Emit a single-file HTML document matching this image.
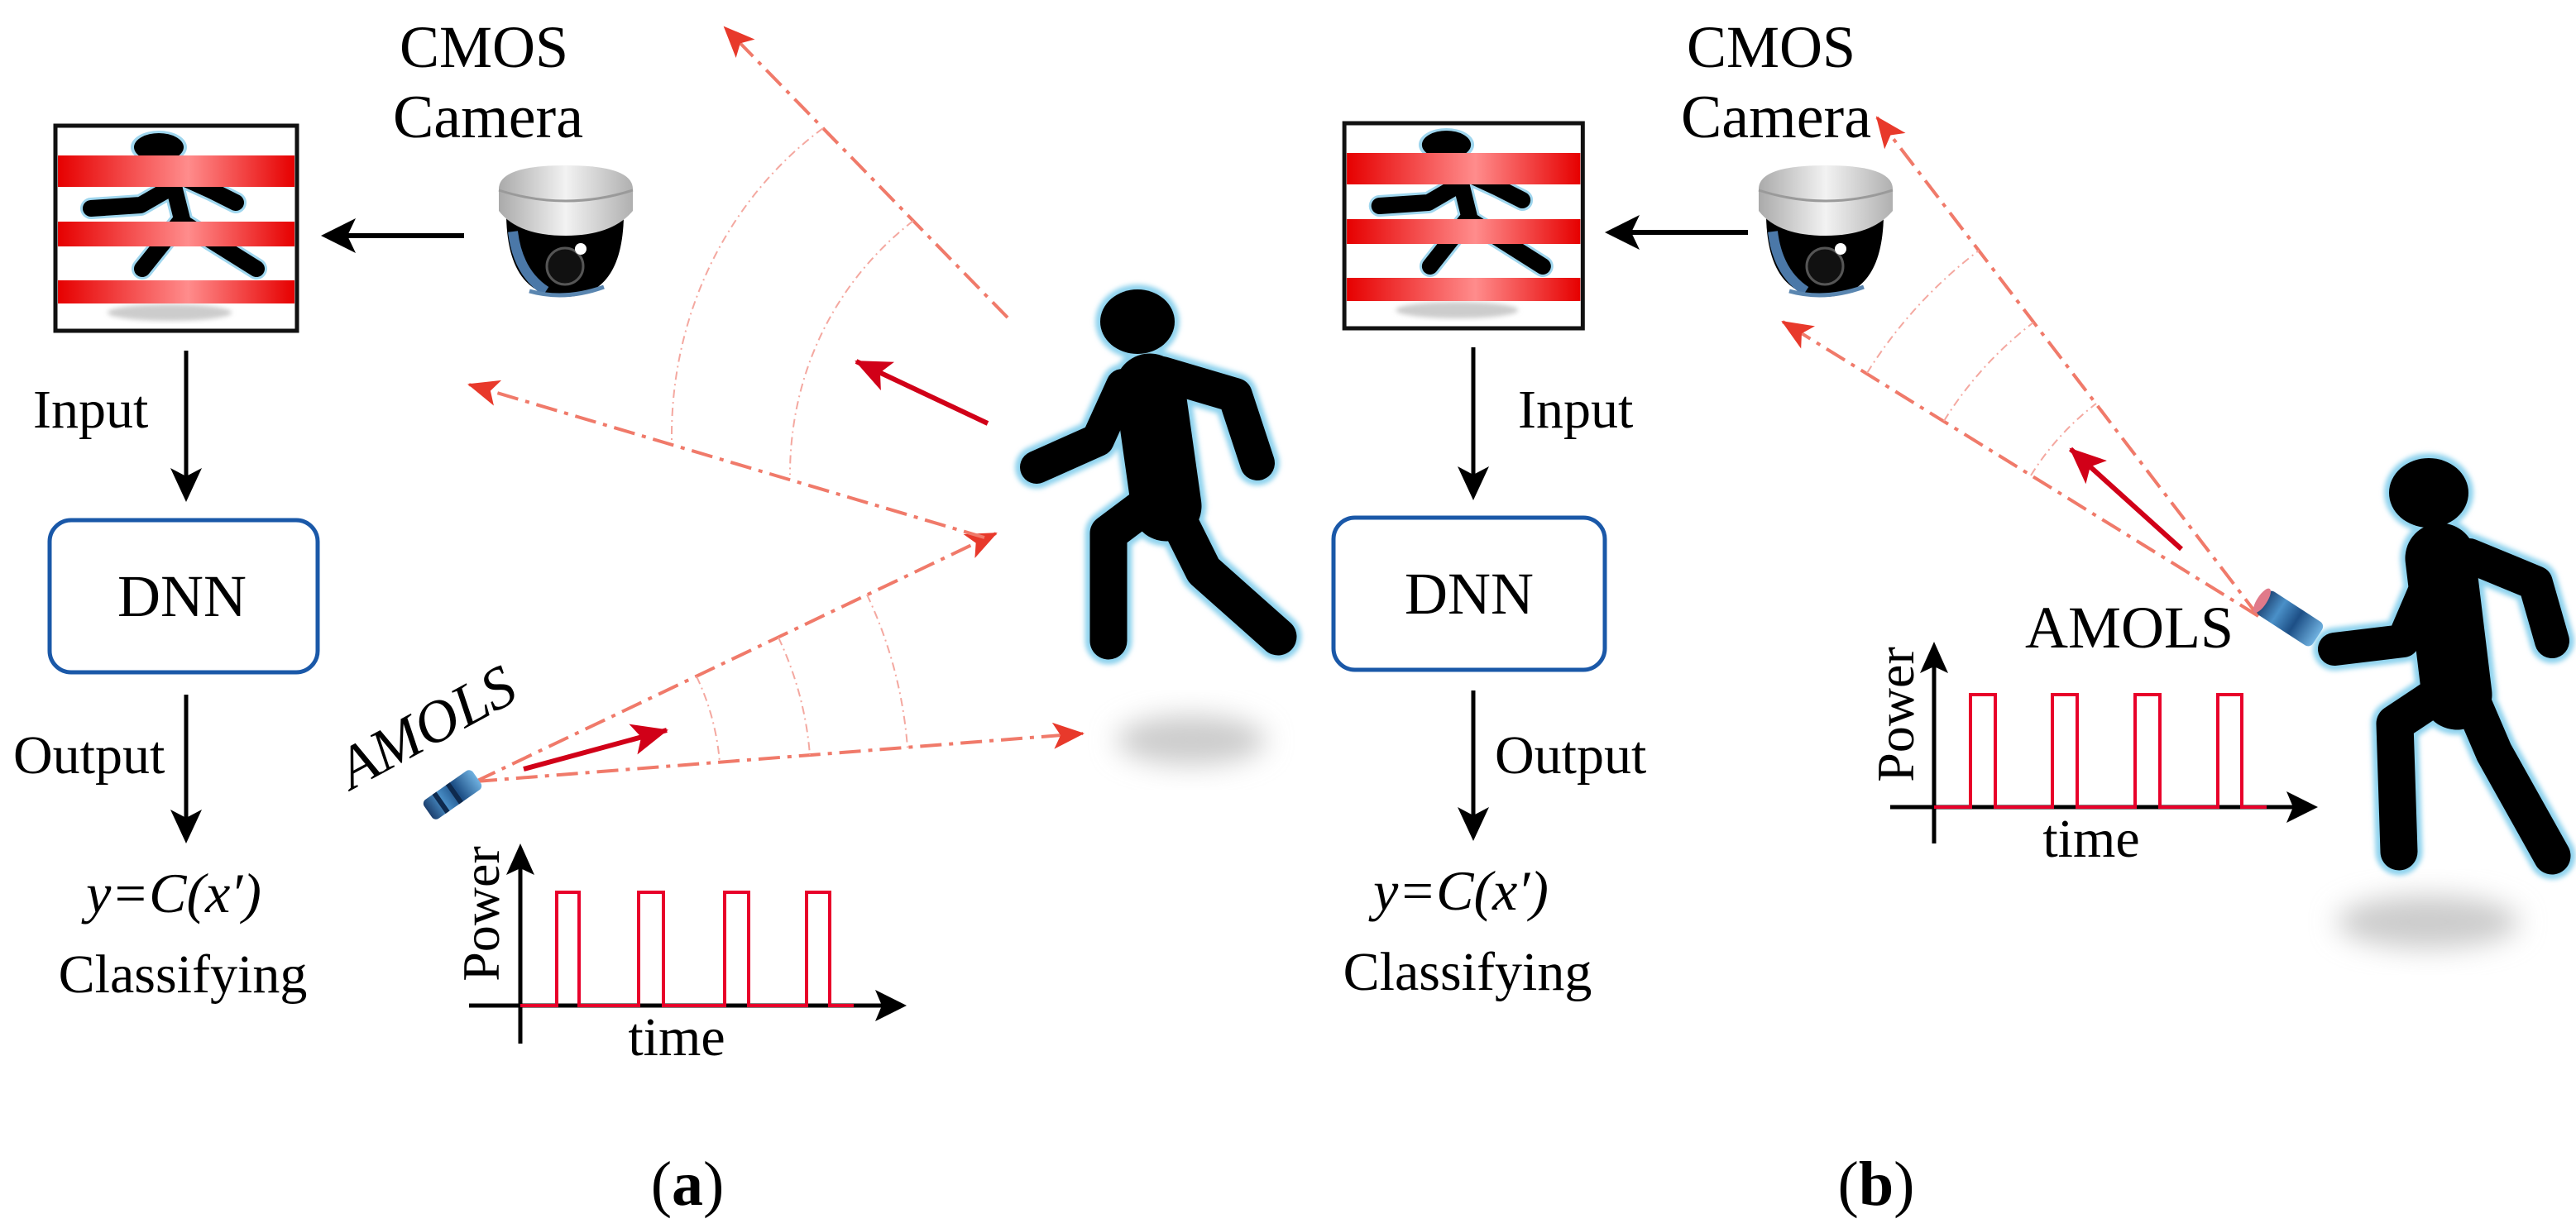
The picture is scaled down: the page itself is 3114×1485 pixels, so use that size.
<!DOCTYPE html>
<html><head><meta charset="utf-8"><style>
html,body{margin:0;padding:0;background:#fff;}
svg{display:block;}
svg text{font-family:"Liberation Serif","DejaVu Serif",serif;fill:#000;}
</style></head><body>
<svg width="3114" height="1485" viewBox="0 0 3114 1485" xmlns="http://www.w3.org/2000/svg" font-family="Liberation Serif, DejaVu Serif, serif">
<defs>
<linearGradient id="stripe" x1="0" x2="1" y1="0" y2="0">
<stop offset="0" stop-color="#e60000"/><stop offset="0.55" stop-color="#ff8c8c"/><stop offset="1" stop-color="#e60000"/>
</linearGradient>
<linearGradient id="cap" x1="0" x2="1"><stop offset="0" stop-color="#aaa"/><stop offset="0.5" stop-color="#f2f2f2"/><stop offset="1" stop-color="#b0b0b0"/></linearGradient>
<linearGradient id="dev" x1="0" x2="1"><stop offset="0" stop-color="#1c3f6e"/><stop offset="0.3" stop-color="#4a90c8"/><stop offset="0.6" stop-color="#1d4f86"/><stop offset="1" stop-color="#6fb1e0"/></linearGradient>
<filter id="blur" x="-50%" y="-50%" width="200%" height="200%"><feGaussianBlur stdDeviation="16"/></filter>
<filter id="glow" x="-20%" y="-20%" width="140%" height="140%"><feGaussianBlur stdDeviation="3"/></filter>
<marker id="rh" markerUnits="userSpaceOnUse" markerWidth="40" markerHeight="32" refX="36" refY="16" orient="auto">
<path d="M0,0 L38,16 L0,32 L9,16 Z" fill="#e8392b"/></marker>
<marker id="sh" markerUnits="userSpaceOnUse" markerWidth="46" markerHeight="38" refX="42" refY="19" orient="auto">
<path d="M0,0 L44,19 L0,38 L10,19 Z" fill="#d10018"/></marker>

<g id="icon">
<rect x="67" y="152" width="292" height="248" fill="#fff" stroke="#111" stroke-width="5"/>
<ellipse cx="205" cy="378" rx="75" ry="10" fill="#ccc" filter="url(#glow)"/>
<g stroke="#9fd6ee" stroke-width="26" stroke-linecap="round" stroke-linejoin="round" fill="none">
<path d="M205,205 L220,265 L172,325"/><path d="M210,225 L170,248 L110,252"/><path d="M222,215 L255,230 L285,245"/><path d="M222,270 L310,325"/></g>
<ellipse cx="192" cy="178" rx="34" ry="20" fill="#9fd6ee"/>
<ellipse cx="192" cy="178" rx="30" ry="17" fill="#000"/>
<g stroke="#000" stroke-width="20" stroke-linecap="round" stroke-linejoin="round" fill="none">
<path d="M205,205 L220,265 L172,325"/><path d="M210,225 L170,248 L110,252"/><path d="M222,215 L255,230 L285,245"/><path d="M222,270 L310,325"/></g>
<rect x="70" y="188" width="286" height="38" fill="url(#stripe)"/>
<rect x="70" y="268" width="286" height="30" fill="url(#stripe)"/>
<rect x="70" y="339" width="286" height="28" fill="url(#stripe)"/>
</g>

<g id="cam">
<path d="M612,262 Q614,358 683,359 Q752,358 754,262 Z" fill="#000"/>
<path d="M620,280 Q626,330 660,352" stroke="#4b78a8" stroke-width="12" fill="none"/>
<path d="M640,352 Q683,364 730,347" stroke="#5a86b0" stroke-width="5" fill="none"/>
<path d="M603,228 Q604,200 684,200 Q764,200 765,228 L765,255 Q740,285 684,285 Q626,285 603,255 Z" fill="url(#cap)"/>
<path d="M603,230 Q684,256 765,230" stroke="#9a9a9a" stroke-width="3" fill="none"/>
<circle cx="683" cy="322" r="22" fill="#111" stroke="#555" stroke-width="3"/>
<circle cx="702" cy="301" r="7" fill="#fff"/>
</g>

<g id="person">
<g stroke="#8fd3ee" stroke-linecap="round" stroke-linejoin="round" fill="none" filter="url(#glow)">
<path d="M1390,470 L1410,612" stroke-width="97"/>
<path d="M1357,466 L1327,532 L1253,565" stroke-width="52"/>
<path d="M1405,452 L1493,478 L1520,560" stroke-width="54"/>
<path d="M1400,600 L1340,645 L1340,775" stroke-width="57"/>
<path d="M1420,620 L1455,690 L1545,770" stroke-width="57"/>
<ellipse cx="1375" cy="389" rx="51" ry="45" fill="#8fd3ee" stroke="none"/>
</g>
<g stroke="#000" stroke-linecap="round" stroke-linejoin="round" fill="none">
<path d="M1390,470 L1410,612" stroke-width="85"/>
<path d="M1357,466 L1327,532 L1253,565" stroke-width="40"/>
<path d="M1405,452 L1493,478 L1520,560" stroke-width="42"/>
<path d="M1400,600 L1340,645 L1340,775" stroke-width="45"/>
<path d="M1420,620 L1455,690 L1545,770" stroke-width="45"/>
</g>
<ellipse cx="1375" cy="389" rx="45" ry="39" fill="#000"/>
</g>
</defs>

<!-- ===== Panel (a) ===== -->
<use href="#icon"/>
<use href="#cam"/>
<text x="585" y="81" font-size="72" text-anchor="middle">CMOS</text>
<text x="590" y="166" font-size="74" text-anchor="middle">Camera</text>
<line x1="561" y1="285" x2="415" y2="285" stroke="#000" stroke-width="6"/>
<path d="M388,285 L430,264 L420,285 L430,306 Z" fill="#000"/>
<line x1="225" y1="424" x2="225" y2="580" stroke="#000" stroke-width="5"/>
<path d="M225,607 L206,566 L225,576 L244,566 Z" fill="#000"/>
<text x="40" y="517" font-size="66">Input</text>
<rect x="60" y="629" width="324" height="184" rx="26" fill="#fff" stroke="#1a58a8" stroke-width="5"/>
<text x="220" y="745" font-size="72" text-anchor="middle">DNN</text>
<line x1="225" y1="840" x2="225" y2="993" stroke="#000" stroke-width="5"/>
<path d="M225,1020 L206,979 L225,989 L244,979 Z" fill="#000"/>
<text x="16" y="935" font-size="66">Output</text>
<text x="210" y="1103" font-size="68" text-anchor="middle" font-style="italic">y=C(x′)</text>
<text x="221" y="1200" font-size="66" text-anchor="middle">Classifying</text>

<g stroke="#f07a6a" stroke-width="4" fill="none" stroke-dasharray="26 9 5 9">
<path d="M575,945 L1309,887" marker-end="url(#rh)"/>
<path d="M575,945 L1204,645" marker-end="url(#rh)"/>
<path d="M1190,650 L567,465" marker-end="url(#rh)"/>
<path d="M1218,384 L876,33" marker-end="url(#rh)"/>
</g>
<g stroke="#f4a8a0" stroke-width="2" fill="none" stroke-dasharray="10 5 2 5">
<path d="M842,818 A296,296 0 0 1 870,922"/>
<path d="M941,771 A405,405 0 0 1 979,913"/>
<path d="M1048,719 A524,524 0 0 1 1097,904"/>
<path d="M995,155 C880,240 810,380 812,534"/>
<path d="M1104,267 C1010,340 955,450 955,574"/>
</g>
<line x1="1194" y1="512" x2="1035" y2="437" stroke="#d10018" stroke-width="6" marker-end="url(#sh)"/>
<line x1="633" y1="930" x2="806" y2="883" stroke="#d10018" stroke-width="6" marker-end="url(#sh)"/>
<g transform="translate(547,961) rotate(-35)">
<rect x="-36" y="-14" width="72" height="28" rx="6" fill="url(#dev)"/>
<rect x="-20" y="-14" width="6" height="28" fill="#0e2a4e"/><rect x="0" y="-14" width="6" height="28" fill="#0e2a4e"/>
</g>
<text transform="translate(527,900) rotate(-28.5)" font-size="72" text-anchor="middle" font-style="italic">AMOLS</text>

<line x1="567" y1="1216" x2="1070" y2="1216" stroke="#000" stroke-width="5"/>
<path d="M1096,1216 L1058,1197 L1066,1216 L1058,1235 Z" fill="#000"/>
<line x1="629" y1="1262" x2="629" y2="1045" stroke="#000" stroke-width="5"/>
<path d="M629,1020 L612,1058 L629,1050 L646,1058 Z" fill="#000"/>
<path d="M629,1216 L673,1216 L673,1079 L700,1079 L700,1216 L772,1216 L772,1079 L802,1079 L802,1216 L876,1216 L876,1079 L905,1079 L905,1216 L975,1216 L975,1079 L1003,1079 L1003,1216 L1032,1216" stroke="#e8002a" stroke-width="4" fill="none"/>
<text transform="translate(603,1105) rotate(-90)" font-size="64" text-anchor="middle">Power</text>
<text x="818" y="1276" font-size="66" text-anchor="middle">time</text>

<ellipse cx="1440" cy="895" rx="90" ry="30" fill="#ccc" filter="url(#blur)"/>
<use href="#person"/>

<text x="831" y="1457" font-size="76" text-anchor="middle">(<tspan font-weight="bold">a</tspan>)</text>

<!-- ===== Panel (b) ===== -->
<use href="#icon" transform="translate(1559,-3) scale(0.987,1)"/>
<use href="#cam" transform="translate(1523,0)"/>
<text x="2141" y="81" font-size="72" text-anchor="middle">CMOS</text>
<text x="2147" y="166" font-size="74" text-anchor="middle">Camera</text>
<line x1="2113" y1="281" x2="1967" y2="281" stroke="#000" stroke-width="6"/>
<path d="M1940,281 L1982,260 L1972,281 L1982,302 Z" fill="#000"/>
<line x1="1781" y1="420" x2="1781" y2="578" stroke="#000" stroke-width="5"/>
<path d="M1781,605 L1762,564 L1781,574 L1800,564 Z" fill="#000"/>
<text x="1835" y="517" font-size="66">Input</text>
<rect x="1612" y="626" width="328" height="184" rx="26" fill="#fff" stroke="#1a58a8" stroke-width="5"/>
<text x="1776" y="742" font-size="72" text-anchor="middle">DNN</text>
<line x1="1781" y1="835" x2="1781" y2="990" stroke="#000" stroke-width="5"/>
<path d="M1781,1017 L1762,976 L1781,986 L1800,976 Z" fill="#000"/>
<text x="1807" y="935" font-size="66">Output</text>
<text x="1766" y="1100" font-size="68" text-anchor="middle" font-style="italic">y=C(x′)</text>
<text x="1774" y="1197" font-size="66" text-anchor="middle">Classifying</text>

<g stroke="#f07a6a" stroke-width="4" fill="none" stroke-dasharray="26 9 5 9">
<path d="M2730,745 L2269,142" marker-end="url(#rh)"/>
<path d="M2730,745 L2155,389" marker-end="url(#rh)"/>
</g>
<g stroke="#f4a8a0" stroke-width="2" fill="none" stroke-dasharray="10 5 2 5">
<path d="M2455,575 A323,323 0 0 1 2534,488"/>
<path d="M2350,509 A447,447 0 0 1 2458,390"/>
<path d="M2257,451 A557,557 0 0 1 2392,303"/>
</g>
<line x1="2637" y1="664" x2="2503" y2="543" stroke="#d10018" stroke-width="6" marker-end="url(#sh)"/>
<text x="2574" y="783" font-size="72" text-anchor="middle">AMOLS</text>

<line x1="2285" y1="976" x2="2776" y2="976" stroke="#000" stroke-width="5"/>
<path d="M2802,976 L2764,957 L2772,976 L2764,995 Z" fill="#000"/>
<line x1="2338" y1="1020" x2="2338" y2="802" stroke="#000" stroke-width="5"/>
<path d="M2338,776 L2321,814 L2338,806 L2355,814 Z" fill="#000"/>
<path d="M2338,976 L2382,976 L2382,840 L2412,840 L2412,976 L2481,976 L2481,840 L2511,840 L2511,976 L2581,976 L2581,840 L2611,840 L2611,976 L2681,976 L2681,840 L2710,840 L2710,976 L2740,976" stroke="#e8002a" stroke-width="4" fill="none"/>
<text transform="translate(2313,864) rotate(-90)" font-size="64" text-anchor="middle">Power</text>
<text x="2528" y="1036" font-size="66" text-anchor="middle">time</text>

<ellipse cx="2935" cy="1115" rx="110" ry="32" fill="#ccc" filter="url(#blur)"/>
<g>
<g stroke="#8fd3ee" stroke-linecap="round" stroke-linejoin="round" fill="none" filter="url(#glow)">
<path d="M2950,675 L2970,840" stroke-width="97"/>
<path d="M2985,672 L3065,705 L3085,775" stroke-width="54"/>
<path d="M2935,705 L2905,775 L2822,785" stroke-width="52"/>
<path d="M2955,835 L2895,875 L2900,1030" stroke-width="57"/>
<path d="M2985,840 L3015,910 L3085,1035" stroke-width="57"/>
<ellipse cx="2936" cy="596" rx="54" ry="48" fill="#8fd3ee" stroke="none"/>
</g>
<g stroke="#000" stroke-linecap="round" stroke-linejoin="round" fill="none">
<path d="M2950,675 L2970,840" stroke-width="85"/>
<path d="M2985,672 L3065,705 L3085,775" stroke-width="42"/>
<path d="M2935,705 L2905,775 L2822,785" stroke-width="40"/>
<path d="M2955,835 L2895,875 L2900,1030" stroke-width="45"/>
<path d="M2985,840 L3015,910 L3085,1035" stroke-width="45"/>
</g>
<ellipse cx="2936" cy="596" rx="48" ry="42" fill="#000"/>
</g>
<g transform="translate(2768,748) rotate(33)">
<rect x="-40" y="-17" width="80" height="34" rx="7" fill="url(#dev)"/>
<ellipse cx="-40" cy="0" rx="6" ry="17" fill="#e07a8a"/>
</g>

<text x="2268" y="1457" font-size="76" text-anchor="middle">(<tspan font-weight="bold">b</tspan>)</text>
</svg>
</body></html>
